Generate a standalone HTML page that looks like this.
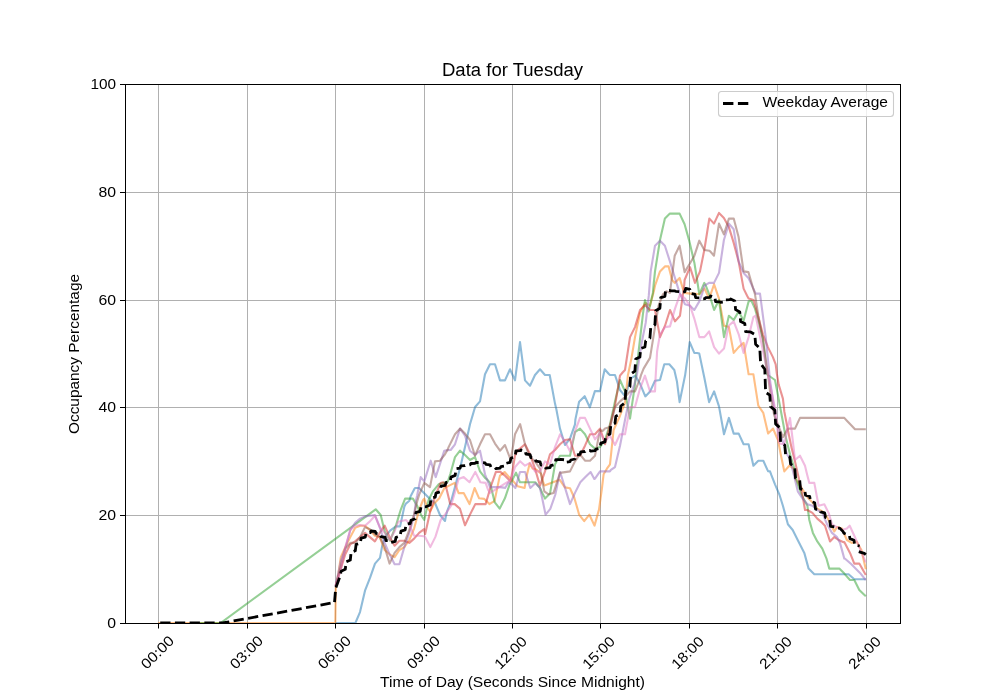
<!DOCTYPE html><html><head><meta charset="utf-8"><style>html,body{margin:0;padding:0;background:#fff;}svg{display:block;will-change:transform;}</style></head><body>
<svg width="1000" height="700" viewBox="0 0 1000 700" font-family='"Liberation Sans", sans-serif'>
<rect x="0" y="0" width="1000" height="700" fill="#fff"/>
<g stroke="#b0b0b0" stroke-width="1" fill="none">
<line x1="158.5" y1="84" x2="158.5" y2="623"/>
<line x1="247.5" y1="84" x2="247.5" y2="623"/>
<line x1="335.5" y1="84" x2="335.5" y2="623"/>
<line x1="424.5" y1="84" x2="424.5" y2="623"/>
<line x1="512.5" y1="84" x2="512.5" y2="623"/>
<line x1="600.5" y1="84" x2="600.5" y2="623"/>
<line x1="689.5" y1="84" x2="689.5" y2="623"/>
<line x1="777.5" y1="84" x2="777.5" y2="623"/>
<line x1="866.5" y1="84" x2="866.5" y2="623"/>
<line x1="125" y1="515.5" x2="900" y2="515.5"/>
<line x1="125" y1="407.5" x2="900" y2="407.5"/>
<line x1="125" y1="300.5" x2="900" y2="300.5"/>
<line x1="125" y1="192.5" x2="900" y2="192.5"/>
</g>
<defs><clipPath id="ax"><rect x="125" y="84" width="775" height="539"/></clipPath></defs>
<g clip-path="url(#ax)">
<polyline points="335.3,623.0 355.4,623.0 360.0,612.1 365.0,590.7 370.0,577.9 375.0,563.6 380.0,557.9 382.1,546.4 384.5,537.9 385.0,537.0 390.1,530.7 395.9,526.4 400.1,526.4 404.4,506.4 405.9,503.6 409.4,500.7 410.6,496.2 414.1,489.4 415.0,488.0 419.0,488.0 425.0,494.0 430.0,499.0 435.0,503.0 440.0,515.0 445.0,521.0 445.9,516.1 447.1,511.4 451.4,500.0 455.7,484.3 459.6,469.4 460.0,468.6 465.0,447.1 470.0,424.3 475.1,407.0 480.0,401.4 485.0,374.3 490.0,364.3 495.0,364.3 500.0,380.4 505.0,380.4 510.0,369.3 515.0,380.4 520.0,342.1 525.0,380.4 530.0,385.7 535.0,375.0 540.0,369.3 545.0,375.0 549.7,375.0 555.0,403.6 556.4,409.5 557.6,415.9 560.0,428.6 565.0,445.0 570.0,438.6 575.0,424.3 575.4,419.4 579.1,401.8 584.7,396.2 589.8,407.4 594.9,391.1 600.0,391.1 604.7,369.3 608.6,373.7 610.0,375.0 615.0,375.0 620.0,390.0 625.4,396.6 630.4,378.6 635.4,375.7 640.3,384.3 645.3,396.4 650.1,391.4 655.0,380.7 660.0,380.0 661.6,374.1 664.3,364.3 669.3,364.3 674.3,370.0 676.9,381.2 679.6,402.1 685.1,375.3 689.7,342.1 694.3,352.9 697.1,353.0 699.3,353.6 704.4,378.0 709.1,402.1 714.1,391.4 719.0,406.4 724.0,434.3 728.9,417.9 733.7,433.6 738.7,433.6 743.6,444.3 748.6,444.3 753.4,465.7 758.3,460.7 763.3,460.7 768.0,471.1 770.0,471.4 771.4,475.2 775.0,484.3 779.3,494.3 782.9,505.7 787.9,524.3 792.7,530.0 797.7,540.0 801.4,547.3 804.3,552.9 808.6,568.6 814.3,574.3 848.6,574.3 854.3,579.3 865.8,579.3" fill="none" stroke="#1f77b4" stroke-opacity="0.5" stroke-width="2.1" stroke-linejoin="round" stroke-linecap="butt"/>
<polyline points="158.2,623.0 335.3,623.0 335.8,588.0 338.5,572.7 340.8,557.1 345.3,547.1 350.3,537.1 355.1,527.9 360.1,525.7 365.0,525.7 369.9,530.0 374.9,535.7 379.7,537.1 384.7,550.0 389.6,554.3 394.6,557.1 399.4,550.0 404.3,547.1 409.3,540.0 414.1,528.6 419.1,510.0 423.1,500.0 424.3,498.6 427.1,507.1 430.0,511.4 432.1,507.8 434.1,503.4 439.3,498.3 444.4,488.0 449.6,485.4 454.7,482.9 458.6,493.1 463.7,493.1 469.5,504.1 474.6,488.0 479.1,498.3 484.3,498.9 489.4,504.1 494.6,500.9 498.9,480.1 500.0,475.7 503.4,473.1 504.6,472.0 509.1,477.1 513.1,481.1 517.7,486.3 524.6,488.0 526.9,474.9 529.7,463.4 532.6,468.6 536.6,469.7 541.1,473.7 543.4,482.9 544.4,485.4 559.6,479.7 564.9,487.4 570.0,488.3 574.3,497.7 578.6,512.7 579.1,514.7 584.2,521.1 589.4,514.7 594.5,525.6 599.0,509.6 601.9,488.5 603.6,474.3 606.9,468.7 610.0,464.3 613.6,430.0 620.0,415.7 625.0,402.9 627.9,375.2 631.4,358.6 635.0,337.1 640.0,312.9 645.0,302.9 650.0,305.7 653.9,291.1 655.0,285.7 660.0,271.4 664.9,266.4 668.6,266.4 672.1,280.0 674.7,282.9 679.6,277.9 682.9,288.6 685.0,292.9 690.0,293.6 694.3,293.6 699.3,294.3 704.3,288.6 705.1,289.9 709.1,298.6 714.1,284.3 719.0,298.6 724.0,325.7 728.9,327.1 733.7,352.9 738.7,347.1 743.6,342.9 748.6,374.3 753.4,374.3 753.6,375.7 758.3,405.7 763.3,412.9 768.1,433.6 773.1,428.6 776.4,436.5 778.0,440.0 780.7,454.3 784.3,471.4 789.3,465.7 793.6,468.6 795.5,478.9 807.5,497.2 812.9,502.9 817.3,508.6 822.3,511.4 827.1,517.1 832.0,527.1 834.3,531.4 837.0,527.1 841.9,528.6 846.9,540.0 851.7,542.9 856.6,541.4 861.4,550.0 865.8,569.3" fill="none" stroke="#ff7f0e" stroke-opacity="0.5" stroke-width="2.1" stroke-linejoin="round" stroke-linecap="butt"/>
<polyline points="195.0,623.0 220.6,623.0 375.7,509.3 380.7,515.0 384.7,531.4 388.1,537.9 390.1,540.7 395.9,525.7 398.7,516.4 400.9,509.3 405.1,498.6 406.1,498.6 412.9,498.6 417.1,505.7 421.4,515.7 424.3,520.0 428.6,500.0 432.9,491.4 438.6,484.3 442.9,482.9 447.9,481.4 450.4,473.8 455.0,457.1 460.0,450.7 465.0,455.0 470.0,460.0 475.0,457.1 480.0,471.4 485.0,477.9 486.9,479.3 490.1,482.9 494.6,502.1 499.7,508.6 504.9,498.3 509.6,484.5 511.4,481.7 516.0,472.6 520.0,482.3 525.1,482.3 535.4,482.3 540.0,488.0 543.4,495.4 544.4,497.0 545.0,498.6 550.0,493.6 555.0,464.3 560.0,455.7 565.0,455.7 570.0,455.7 575.0,432.1 580.0,428.6 585.0,434.3 590.0,444.3 595.0,448.6 600.0,447.1 605.1,439.6 610.0,424.3 615.0,401.4 620.0,380.0 625.0,391.4 630.0,418.6 635.0,384.3 636.1,373.5 638.6,351.4 642.9,314.3 645.0,300.0 648.6,311.4 652.9,292.9 653.6,284.8 655.0,271.4 660.0,240.0 664.9,218.6 669.9,213.6 674.7,213.6 679.6,213.6 684.6,224.3 689.4,241.4 694.4,262.9 697.1,280.0 699.3,294.3 704.3,282.9 705.6,285.2 709.6,295.3 714.1,310.0 719.0,300.0 724.0,337.1 728.9,315.7 733.7,320.0 738.7,311.4 743.6,320.7 748.6,301.4 751.4,300.7 755.0,308.6 758.6,321.4 762.9,338.6 767.1,374.5 775.0,380.0 778.6,398.6 782.6,420.3 785.7,437.1 790.0,454.3 794.3,468.6 796.2,479.0 797.8,484.4 802.6,497.1 807.4,505.7 809.3,520.0 812.9,532.9 817.3,541.4 822.3,548.6 826.4,558.3 829.3,568.6 839.3,568.6 844.3,573.6 850.0,580.0 854.3,580.0 859.3,590.0 865.8,596.3" fill="none" stroke="#2ca02c" stroke-opacity="0.5" stroke-width="2.1" stroke-linejoin="round" stroke-linecap="butt"/>
<polyline points="335.6,586.0 340.4,570.0 345.3,554.3 350.3,544.3 355.1,541.4 360.1,537.1 365.0,532.9 369.9,537.1 374.9,541.4 379.7,532.9 384.7,525.7 389.6,537.1 394.6,545.7 399.4,540.7 404.3,540.7 409.3,542.9 414.1,538.6 419.1,532.9 424.1,529.2 425.1,534.3 430.3,511.1 435.4,495.7 440.6,482.9 443.1,482.2 445.7,485.4 450.2,504.1 454.7,504.1 459.9,508.6 465.0,525.3 470.1,514.4 475.3,504.1 480.4,504.1 485.6,504.1 490.7,486.7 495.9,471.9 500.4,471.9 502.6,473.9 505.0,475.7 510.7,481.4 515.0,455.7 517.6,450.4 520.0,448.6 525.0,444.3 530.0,454.3 535.0,468.6 540.0,485.7 545.0,471.4 550.0,454.3 555.0,450.0 560.0,444.3 565.0,440.0 570.0,439.3 575.0,455.7 580.0,455.7 585.0,445.7 590.0,434.3 595.0,434.3 600.0,428.6 602.6,436.2 605.0,444.3 610.0,425.7 615.0,405.7 620.0,375.7 622.6,372.5 625.0,370.0 630.0,337.1 635.0,327.1 640.0,310.0 645.0,305.0 650.0,310.0 655.0,310.0 660.0,337.1 665.0,325.7 670.0,310.0 675.0,321.4 680.0,315.7 684.3,284.3 684.6,280.0 690.0,267.1 695.0,282.9 700.0,271.4 704.3,250.0 709.3,218.6 710.1,219.4 714.0,223.6 719.0,212.9 723.9,217.9 728.9,227.1 733.7,242.9 738.6,261.4 743.6,288.6 747.1,295.8 748.6,298.6 753.6,300.0 758.3,317.1 762.9,334.3 767.9,347.1 772.9,357.1 775.7,364.3 776.8,373.4 778.6,384.3 782.9,398.6 783.6,404.3 784.3,411.4 787.9,430.0 791.4,447.1 795.0,461.4 798.4,476.5 800.2,485.1 802.6,495.7 805.0,510.0 807.4,510.0 812.4,512.9 817.3,518.6 822.3,522.9 825.0,525.7 830.0,541.4 834.3,537.1 838.6,540.0 843.6,542.2 844.3,542.1 850.0,552.9 854.3,563.6 859.3,563.6 865.8,575.0" fill="none" stroke="#d62728" stroke-opacity="0.5" stroke-width="2.1" stroke-linejoin="round" stroke-linecap="butt"/>
<polyline points="335.6,586.0 340.7,561.4 345.7,547.1 350.3,530.0 355.1,522.9 360.1,518.6 365.0,516.4 369.9,515.7 374.9,515.0 379.7,527.1 384.7,542.9 389.6,554.3 394.6,564.3 399.4,564.3 404.3,547.1 409.3,532.9 414.1,515.7 415.8,501.3 417.1,495.7 420.7,477.1 424.3,481.4 430.7,460.7 435.7,477.1 444.3,450.7 447.6,450.1 450.7,450.0 455.0,444.3 460.0,428.6 465.0,435.7 470.0,450.7 475.0,455.0 480.0,450.7 485.0,474.3 490.0,487.1 495.0,487.1 500.0,487.1 503.6,487.6 505.1,488.0 508.6,482.3 512.0,484.6 515.4,488.0 520.0,472.0 525.1,472.0 530.3,488.0 535.3,483.2 539.9,487.7 542.4,499.3 545.6,514.7 545.8,514.3 550.3,508.8 555.4,494.3 560.1,472.0 564.9,487.4 570.0,504.1 575.1,492.6 580.3,482.3 585.4,477.1 590.6,472.0 594.3,479.0 595.0,478.6 600.0,471.4 605.0,471.4 609.9,471.4 610.9,469.9 615.0,467.1 620.0,445.7 625.0,420.0 629.3,398.6 634.3,384.3 636.8,375.5 641.4,344.3 645.7,322.9 648.8,295.4 650.7,271.4 655.0,245.7 660.0,240.7 664.9,245.7 669.9,261.4 674.7,277.1 679.6,292.9 681.6,297.3 685.0,304.3 690.0,305.7 694.3,310.0 699.3,301.4 702.1,293.9 704.3,285.7 709.1,282.9 710.8,282.9 712.8,282.9 714.0,282.9 719.0,272.9 723.9,240.0 728.9,223.6 733.7,229.3 738.6,261.4 743.6,272.9 748.4,277.9 753.4,288.6 755.7,293.6 757.1,293.6 760.0,293.6 762.9,315.7 765.7,337.1 768.6,365.7 769.9,379.3 775.9,420.6 781.4,437.1 787.1,454.3 789.9,458.5 797.9,491.7 802.6,498.6 807.4,504.3 812.4,505.7 817.3,510.0 822.3,512.9 827.1,524.3 832.0,532.9 837.0,537.1 840.0,542.9 844.3,558.6 845.1,558.8 851.4,564.3 860.0,572.9 865.8,580.0" fill="none" stroke="#9467bd" stroke-opacity="0.5" stroke-width="2.1" stroke-linejoin="round" stroke-linecap="butt"/>
<polyline points="335.6,586.0 340.7,567.1 345.3,548.6 350.3,542.9 355.1,542.9 360.1,537.1 365.0,527.1 369.9,529.3 374.9,534.3 379.7,537.1 384.7,547.1 389.6,563.6 394.6,552.9 399.4,547.1 404.3,542.9 409.3,530.0 414.1,514.3 417.1,501.8 419.3,494.3 424.3,482.9 430.0,487.1 435.0,461.4 440.0,460.7 445.0,454.3 447.6,449.8 448.6,447.1 455.0,434.3 460.0,428.6 465.0,433.6 470.0,440.0 475.0,455.7 480.0,444.3 485.0,434.3 490.0,434.3 495.0,443.6 500.0,450.7 505.0,445.0 510.7,460.0 515.0,434.3 520.1,424.1 525.0,444.3 530.0,457.1 535.0,461.4 540.0,468.6 544.3,491.4 548.6,494.3 553.6,492.9 560.0,472.9 565.0,472.1 570.0,471.4 575.0,461.4 580.0,454.3 585.0,460.7 590.0,460.7 595.0,455.7 600.0,430.0 602.6,430.9 605.0,428.6 610.0,427.1 615.0,407.1 620.0,401.4 625.0,397.1 630.0,391.4 635.0,391.4 640.0,378.6 641.1,374.8 643.6,368.6 650.0,357.9 655.0,327.1 658.6,305.7 662.9,294.3 666.3,291.3 669.9,292.9 674.7,255.7 679.6,245.7 684.6,272.1 689.4,264.3 694.4,255.7 699.3,240.7 704.3,250.0 709.3,250.7 710.1,251.3 714.0,255.7 719.0,223.6 723.9,234.3 728.9,218.6 733.7,218.6 738.6,237.1 743.6,271.4 748.4,272.1 752.8,287.3 755.0,294.3 758.3,315.7 762.9,340.0 767.1,368.6 768.5,379.1 770.2,392.6 774.3,415.7 778.0,424.3 782.9,437.1 787.9,428.6 792.7,428.6 795.0,428.6 800.0,417.9 841.9,417.9 844.3,417.9 846.9,420.7 851.7,425.7 855.0,429.3 865.8,429.3" fill="none" stroke="#8c564b" stroke-opacity="0.5" stroke-width="2.1" stroke-linejoin="round" stroke-linecap="butt"/>
<polyline points="335.6,586.0 340.7,570.0 345.3,547.1 350.3,530.0 355.1,525.7 360.1,525.0 365.0,525.7 369.9,521.4 374.9,515.7 379.7,527.1 384.7,532.9 389.6,540.0 394.6,531.4 398.3,521.7 405.9,520.0 408.0,522.1 408.6,523.3 409.3,524.3 414.1,535.7 419.1,535.7 423.8,536.3 425.1,536.9 430.3,547.1 435.4,536.9 440.6,520.1 445.7,513.7 450.9,506.0 454.7,493.1 458.6,479.0 463.7,477.1 469.5,482.2 475.3,471.9 480.4,482.2 485.6,482.9 488.3,490.3 490.0,492.9 510.7,480.0 515.0,467.1 520.1,461.2 525.0,465.7 530.0,462.9 535.0,471.4 540.0,471.4 545.0,461.4 550.0,464.3 555.0,447.1 560.0,434.3 565.0,441.4 570.0,451.4 575.0,431.4 580.0,417.9 585.0,417.9 590.0,428.6 595.0,439.3 600.0,432.9 602.6,437.3 605.0,441.4 610.0,435.7 615.0,445.0 620.0,434.3 625.0,434.3 630.0,407.1 635.0,407.1 640.0,388.6 645.0,375.7 650.0,391.4 655.0,391.4 655.6,377.5 657.1,351.4 660.0,334.3 665.0,327.1 670.0,326.4 675.0,308.6 680.0,294.3 685.0,298.6 690.0,305.7 694.3,318.6 699.3,337.1 704.3,337.1 705.1,336.3 709.1,331.4 714.1,347.1 719.0,353.6 724.0,348.6 728.6,325.7 733.7,321.4 738.7,334.3 743.6,352.9 748.6,337.1 753.4,317.1 755.7,315.7 758.5,329.5 770.2,385.3 775.7,411.4 778.6,441.4 780.1,443.6 784.3,444.3 787.9,427.1 790.0,417.9 792.7,440.0 795.0,460.0 800.0,455.7 805.0,465.7 807.1,474.5 809.3,482.9 814.3,482.9 818.6,505.7 824.3,504.3 828.6,512.9 832.0,524.3 837.0,527.1 841.9,530.0 846.9,528.6 849.7,525.7 854.3,535.7 858.6,545.7 862.9,555.7 865.8,562.4" fill="none" stroke="#e377c2" stroke-opacity="0.5" stroke-width="2.1" stroke-linejoin="round" stroke-linecap="butt"/>
<polyline points="160.2,623.0 222.6,623.0 334.5,602.5 335.7,588.0 340.3,575.6 341.1,571.2 345.3,569.3 346.1,561.9 350.3,560.0 351.1,552.3 355.3,550.7 356.1,544.4 360.3,543.2 361.1,538.2 365.3,537.1 366.1,533.0 370.3,532.6 371.1,531.0 375.2,531.5 376.1,533.3 380.2,534.0 381.0,536.7 385.2,537.5 386.0,540.6 390.2,540.9 391.0,542.5 395.2,541.4 396.0,537.3 400.2,536.0 401.0,531.1 405.2,529.8 406.0,524.3 410.2,523.5 411.0,520.4 415.2,518.8 416.0,512.4 420.2,511.3 421.0,506.8 425.2,506.8 426.0,506.7 430.2,505.0 431.0,498.2 435.2,497.2 436.0,493.1 440.2,491.7 441.0,486.1 445.2,485.4 446.0,482.6 450.2,481.5 451.0,477.1 455.2,475.4 456.0,468.7 460.1,468.1 460.9,465.8 465.1,465.7 465.9,465.3 470.1,464.9 470.9,463.5 475.1,463.3 475.9,462.5 480.1,462.5 480.9,462.5 485.1,462.9 485.9,464.4 490.1,464.9 490.9,467.2 495.1,467.5 495.9,468.6 500.1,468.2 500.9,466.7 505.1,466.0 505.9,463.4 510.1,462.3 510.9,458.2 515.1,456.7 515.9,450.8 520.1,450.7 520.9,450.0 525.1,450.8 525.9,454.0 530.1,454.7 530.9,457.5 535.1,458.2 535.9,461.1 540.1,461.9 540.9,465.0 545.0,465.7 545.8,468.2 550.0,467.7 550.8,465.7 555.0,464.4 555.8,459.6 560.0,459.6 560.8,459.3 565.0,459.9 565.8,462.2 570.0,461.7 570.8,460.0 575.0,459.0 575.8,455.0 580.0,454.4 580.8,451.8 585.0,451.5 585.8,450.4 590.0,450.5 590.8,451.1 595.0,450.7 595.8,449.3 600.0,448.1 600.8,443.2 605.0,441.8 605.8,436.1 610.0,433.9 610.8,425.1 615.0,423.3 615.8,416.3 620.0,414.2 620.8,406.0 625.0,402.8 625.8,389.9 629.9,386.8 630.7,374.1 634.9,371.1 635.7,359.1 639.9,357.0 640.7,348.5 644.9,347.0 645.7,340.9 649.9,338.3 650.7,328.0 654.9,324.6 655.7,310.8 659.9,308.2 660.7,297.7 664.9,296.3 665.7,290.4 669.9,290.5 670.7,290.8 674.9,290.9 675.7,291.3 679.9,291.6 680.7,292.6 684.9,291.7 685.7,288.4 689.9,289.4 690.7,293.5 694.9,294.3 695.7,297.6 699.9,297.9 700.7,298.9 704.9,298.7 705.7,297.7 709.8,297.4 710.6,296.0 714.8,297.2 715.6,301.7 719.8,301.9 720.6,302.4 724.8,301.9 725.6,299.9 729.8,299.7 730.6,299.0 734.8,301.1 735.6,309.6 739.8,312.0 740.6,321.6 744.8,323.6 745.6,331.7 749.8,331.8 750.6,332.0 754.8,334.4 755.6,344.2 759.8,348.1 760.6,363.5 764.8,369.3 765.6,392.2 769.8,395.1 770.6,406.7 774.8,410.1 775.6,423.9 779.8,427.7 780.6,442.7 784.8,445.2 785.6,455.2 789.8,457.0 790.6,464.1 794.7,466.9 795.5,478.1 799.7,480.2 800.5,488.8 804.7,490.1 805.5,495.2 809.7,496.4 810.5,501.2 814.7,502.8 815.5,509.1 819.7,509.6 820.5,511.8 824.7,512.9 825.5,517.4 829.7,519.2 830.5,526.4 834.7,526.8 835.5,528.1 839.7,528.1 842.9,531.4 844.0,533.3 849.4,535.7 850.0,538.6 854.0,540.3 854.6,544.9 859.7,546.0" fill="none" stroke="#000" stroke-width="2.8" stroke-dasharray="10.28,4.44" stroke-linejoin="round"/>
<polyline points="858.8,551.6 860.9,552.3 864.3,553.4 865.8,554.6" fill="none" stroke="#000" stroke-width="2.8" stroke-linejoin="round"/>
</g>
<rect x="125.5" y="84.5" width="775" height="539" fill="none" stroke="#000" stroke-width="1"/>
<g stroke="#000" stroke-width="1">
<line x1="158.5" y1="623" x2="158.5" y2="628.5"/>
<line x1="247.5" y1="623" x2="247.5" y2="628.5"/>
<line x1="335.5" y1="623" x2="335.5" y2="628.5"/>
<line x1="424.5" y1="623" x2="424.5" y2="628.5"/>
<line x1="512.5" y1="623" x2="512.5" y2="628.5"/>
<line x1="600.5" y1="623" x2="600.5" y2="628.5"/>
<line x1="689.5" y1="623" x2="689.5" y2="628.5"/>
<line x1="777.5" y1="623" x2="777.5" y2="628.5"/>
<line x1="866.5" y1="623" x2="866.5" y2="628.5"/>
<line x1="120" y1="623.5" x2="125" y2="623.5"/>
<line x1="120" y1="515.5" x2="125" y2="515.5"/>
<line x1="120" y1="407.5" x2="125" y2="407.5"/>
<line x1="120" y1="300.5" x2="125" y2="300.5"/>
<line x1="120" y1="192.5" x2="125" y2="192.5"/>
<line x1="120" y1="84.5" x2="125" y2="84.5"/>
</g>
<g font-size="14.4" fill="#000" text-anchor="end">
<text x="116" y="627.80" textLength="8.80" lengthAdjust="spacingAndGlyphs">0</text>
<text x="116" y="519.80" textLength="17.60" lengthAdjust="spacingAndGlyphs">20</text>
<text x="116" y="411.80" textLength="17.60" lengthAdjust="spacingAndGlyphs">40</text>
<text x="116" y="304.80" textLength="17.60" lengthAdjust="spacingAndGlyphs">60</text>
<text x="116" y="196.80" textLength="17.60" lengthAdjust="spacingAndGlyphs">80</text>
<text x="116" y="88.80" textLength="25.60" lengthAdjust="spacingAndGlyphs">100</text>
</g>
<g font-size="14.4" fill="#000" text-anchor="middle">
<text x="157.30" y="657.30" transform="rotate(-45 157.30 652.30)" textLength="40" lengthAdjust="spacingAndGlyphs">00:00</text>
<text x="246.30" y="657.30" transform="rotate(-45 246.30 652.30)" textLength="40" lengthAdjust="spacingAndGlyphs">03:00</text>
<text x="334.30" y="657.30" transform="rotate(-45 334.30 652.30)" textLength="40" lengthAdjust="spacingAndGlyphs">06:00</text>
<text x="423.30" y="657.30" transform="rotate(-45 423.30 652.30)" textLength="40" lengthAdjust="spacingAndGlyphs">09:00</text>
<text x="510.50" y="657.70" transform="rotate(-45 510.50 652.70)" textLength="39" lengthAdjust="spacingAndGlyphs">12:00</text>
<text x="598.50" y="657.70" transform="rotate(-45 598.50 652.70)" textLength="39" lengthAdjust="spacingAndGlyphs">15:00</text>
<text x="687.50" y="657.70" transform="rotate(-45 687.50 652.70)" textLength="39" lengthAdjust="spacingAndGlyphs">18:00</text>
<text x="775.50" y="657.70" transform="rotate(-45 775.50 652.70)" textLength="39" lengthAdjust="spacingAndGlyphs">21:00</text>
<text x="864.50" y="657.70" transform="rotate(-45 864.50 652.70)" textLength="39" lengthAdjust="spacingAndGlyphs">24:00</text>
</g>
<text x="512.5" y="75.6" font-size="17.6" text-anchor="middle" textLength="141" lengthAdjust="spacingAndGlyphs">Data for Tuesday</text>
<text x="512.5" y="687" font-size="14.4" text-anchor="middle" textLength="265" lengthAdjust="spacingAndGlyphs">Time of Day (Seconds Since Midnight)</text>
<text x="0" y="0" font-size="14.4" text-anchor="middle" transform="translate(79.2 354) rotate(-90)" textLength="160" lengthAdjust="spacingAndGlyphs">Occupancy Percentage</text>
<rect x="718.5" y="91.5" width="175" height="25" rx="3" ry="3" fill="#fff" fill-opacity="0.8" stroke="#cccccc" stroke-width="1.1"/>
<line x1="723" y1="103.5" x2="751" y2="103.5" stroke="#000" stroke-width="2.8" stroke-dasharray="10.4,4.5"/>
<text x="762.5" y="106.9" font-size="14.4" textLength="125.5" lengthAdjust="spacingAndGlyphs">Weekday Average</text>
</svg></body></html>
